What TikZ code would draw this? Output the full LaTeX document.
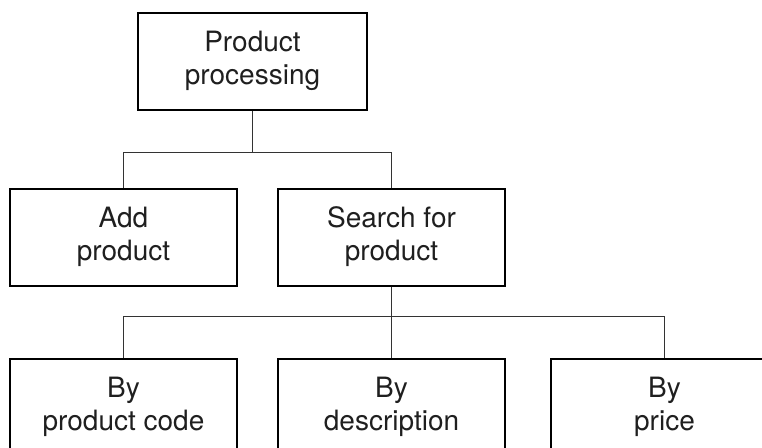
\documentclass[tikz,border=0pt]{standalone}
\usepackage{fontspec}
\setmainfont{TeX Gyre Heros}
\usetikzlibrary{positioning, calc}

\begin{document}
\begin{tikzpicture}[
          node distance=19.5pt,
          block/.style={
              rectangle, draw, line width=1pt, align=center,
              minimum width=113.5pt, minimum height=48.5pt,
              font=\fontsize{14}{16.5}\selectfont, text=black!88
          },
          link/.style={line width=0.55pt, draw=black!80},
      ]
          % picture frame
          \clip (-126.25pt,30.5pt) rectangle (254.75pt,-193pt);

          % Top block
          \node [block, minimum width=114.5pt] (proc) at (0,0) {Product\\processing};

          % Second level
          \node [block, below=38.5pt of proc, xshift=-64.5pt] (addprod) {Add\\product};
          \node [block, right=of addprod] (search) {Search for\\product};

          % Third level
          \node [block, below=35.5pt of addprod] (bycode) {By\\product code};
          \node [block, right=of bycode] (bydesc) {By\\description};
          \node [block, right=22pt of bydesc] (byprice) {By\\price};

          % Connectors
          \coordinate (bus1) at ($(proc.south)+(0,-21pt)$);
          \draw [link] (proc.south) -- (bus1);
          \draw [link] (addprod.north) -- (addprod.north |- bus1)
              -- (search.north |- bus1) -- (search.north);

          \coordinate (bus2) at ($(search.south)+(0,-15pt)$);
          \draw [link] (search.south) -- (bydesc.north);
          \draw [link] (bycode.north) -- (bycode.north |- bus2)
              -- (byprice.north |- bus2) -- (byprice.north);
        \end{tikzpicture}
\end{document}
